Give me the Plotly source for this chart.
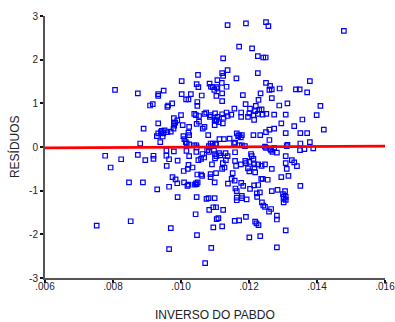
import plotly.graph_objects as go

# Scatter data (INVERSO DO PABDO, RESÍDUOS)
inv_pabdo = [
    .00806, .00777, .00824, .00793, .00847, .00852, .00752, .00873, .00888, .00895,
    .00919, .00919, .00930, .00957, .00965, .00979, .00958, .00990, .00975, .00984,
    .00989, .00965, .01009, .01008, .01020, .01022, .01024, .01016, .01034, .01019,
    .01022, .01044, .01046, .01048, .00990, .01046, .01043, .00970, .01047, .00965,
    .00957, .01045, .01051, .01041, .01049,
    # upper, x .0087-.0105
    .00873, .00933, .00933, .00949, .01002, .01002, .01015, .01022, .01029, .01050,
    .01046, .01051, .01048, .01048, .00909, .00917, .00960, .00962, .00974, .01000,
    .01039, .01044, .01053, .00979, .00989, .00979, .00983, .00933, .01024, .01046,
    .00890, .00978, .00980, .00970, .01005, .00943, .00941, .00952, .00960, .00933,
    .00929, .00948, .00946, .00939, .01007, .01022, .01024, .01010, .01014, .01017,
    .01024, .00880, .01039, .01045, .01053,
    # upper, x .0106-.0124
    .01137, .01191, .01171, .01209, .01226, .01242, .01124, .01137, .01121, .01124,
    .01163, .01226, .01107, .01120, .01134, .01084, .01088, .01093, .01105, .01107,
    .01098, .01121, .01104, .01182, .01234, .01061, .01121, .01157, .01190, .01203,
    .01220, .01230, .01228, .01069, .01074, .01087, .01085, .01100, .01107, .01099,
    .01103, .01105, .01111, .01099, .01121, .01125, .01123, .01134, .01137, .01148,
    .01177, .01177, .01197, .01201, .01213, .01218, .01215, .01226, .01237, .01240,
    .01064, .01069, .01080, .01113, .01126, .01143, .01164, .01171, .01179, .01156,
    .01213, .01233, .01093, .01103, .01082, .01093, .01171, .01179, .01168, .01176,
    # upper, x > .0124
    .01250, .01257, .01479, .01249, .01250, .01262, .01260, .01267, .01290, .01379,
    .01338, .01349, .01371, .01267, .01289, .01313, .01410, .01251, .01274, .01308,
    .01399, .01357, .01295, .01333, .01420, .01260, .01274, .01250, .01308, .01351,
    .01371, .01260, .01313, .01351, .01379,
    # lower, x .0105-.0124
    .01063, .01077, .01082, .01097, .01100, .01104, .01112, .01116, .01131, .01137,
    .01159, .01188, .01206, .01208, .01247, .01265, .01269, .01282, .01046, .01087,
    .01102, .01159, .01059, .01068, .01091, .01100, .01132, .01123, .01121, .01128,
    .01159, .01162, .01176, .01189, .01191, .01201, .01213, .01215, .01216, .01227,
    .01237, .01201, .01197, .01218, .01059, .01062, .01087, .01087, .01103, .01099,
    .01152, .01149, .01158, .01138, .01177, .01183, .01160, .01164, .01203, .01215,
    .01227, .01236, .01240, .01164, .01164, .01179, .01179, .01193, .01223, .01224,
    .01232, .01238, .01242, .01075, .01081, .01099, .01083, .01095, .01103, .01124,
    .01105, .01110, .01095, .01121, .01158, .01171, .01191, .01218, .01222, .01228,
    .01201, .01233, .01089, .01071,
    # lower, x > .0124
    .01250, .01263, .01274, .01311, .01350, .01363, .01389, .01308, .01326, .01333,
    .01341, .01308, .01311, .01267, .01247, .01316, .01295, .01255, .01351, .01267,
    .01284, .01306, .01300, .01302, .01308, .01302, .01308, .01302, .01247, .01265,
    .01259, .01282, .01282, .01308, .01282,
]

residuos = [
    1.31, -0.20, -0.28, -0.47, -0.81, -1.70, -1.80, -0.18, -0.81, -0.30,
    -0.20, -0.27, -0.97, -0.20, -0.28, -0.10, -0.43, -0.31, -0.69, -0.74,
    -0.83, -0.91, -0.81, -0.55, -0.50, -0.41, -0.21, -0.09, -0.47, -0.89,
    -0.86, -0.83, -0.85, -0.63, -1.15, -1.15, -1.54, -1.86, -2.02, -2.34,
    -0.08, -0.11, -0.30, -0.86, -0.81,
    1.23, 1.21, 1.17, 1.29, 1.51, 1.21, 1.09, 1.09, 1.21, 1.65,
    1.44, 1.37, 1.03, 0.94, 0.95, 0.98, 0.92, 0.95, 1.00, 0.73,
    0.76, 0.73, 0.71, 0.66, 0.61, 0.54, 0.56, 0.54, 0.46, 0.53,
    0.42, 0.42, 0.49, 0.35, 0.50, 0.37, 0.34, 0.38, 0.34, 0.31,
    0.25, 0.31, 0.24, 0.11, 0.25, 0.33, 0.27, 0.18, 0.11, 0.08,
    0.06, 0.08, 0.04, 0.04, 0.58,
    2.79, 2.83, 2.30, 2.26, 2.08, 2.05, 2.03, 1.76, 1.69, 1.63,
    1.57, 1.69, 1.53, 1.47, 1.38, 1.45, 1.38, 1.37, 1.37, 1.34,
    1.31, 1.23, 1.17, 1.19, 1.23, 1.18, 1.05, 0.88, 0.98, 0.88,
    0.94, 0.85, 1.08, 0.76, 0.79, 0.73, 0.69, 0.77, 0.69, 0.61,
    0.60, 0.63, 0.57, 0.50, 0.75, 0.67, 0.54, 0.79, 0.71, 0.74,
    0.79, 0.69, 0.69, 0.77, 0.73, 0.82, 0.62, 0.76, 0.86, 0.74,
    0.42, 0.46, 0.27, 0.18, 0.18, 0.19, 0.31, 0.27, 0.27, 0.08,
    0.27, 0.27, 0.08, 0.06, 0.02, 0.02, 0.04, 0.04, 0.25, 0.22,
    2.86, 2.77, 2.66, 2.05, 1.47, 1.40, 1.31, 1.32, 1.34, 1.51,
    1.32, 1.32, 1.25, 1.12, 0.95, 1.00, 0.94, 0.76, 0.74, 0.74,
    0.73, 0.63, 0.54, 0.48, 0.40, 0.40, 0.42, 0.34, 0.32, 0.32,
    0.32, 0.16, 0.05, 0.08, 0.11,
    -0.16, -0.07, -0.11, -0.08, -0.16, -0.21, -0.14, -0.19, -0.14, -0.21,
    -0.12, 0.02, -0.16, -0.21, 0.01, -0.08, -0.11, -0.13, -0.01, 0.08,
    0.08, 0.10, -0.27, -0.24, -0.40, -0.26, -0.30, -0.37, -0.50, -0.47,
    -0.32, -0.43, -0.40, -0.32, -0.37, -0.34, -0.27, -0.40, -0.47, -0.40,
    -0.43, -0.56, -0.49, -0.58, -0.63, -0.66, -0.62, -0.69, -0.60, -0.81,
    -0.60, -0.73, -0.77, -0.84, -0.82, -0.89, -0.95, -1.01, -0.96, -0.88,
    -0.87, -0.73, -0.73, -1.16, -1.22, -1.12, -1.17, -1.20, -1.06, -1.14,
    -1.04, -1.27, -1.34, -1.19, -1.17, -1.17, -1.44, -1.38, -1.38, -1.44,
    -1.65, -1.63, -1.84, -1.82, -1.69, -1.68, -1.60, -1.71, -1.75, -1.79,
    -2.07, -2.04, -2.31, -2.66,
    -0.02, -0.05, -0.02, 0.02, -0.07, -0.05, -0.03, -0.21, -0.30, -0.35,
    -0.44, -0.37, -0.50, -0.50, -0.40, -0.66, -0.69, -0.75, -0.89, -1.01,
    -0.98, -1.01, -1.08, -1.14, -1.14, -1.19, -1.21, -1.27, -1.37, -1.42,
    -1.48, -1.57, -1.66, -1.91, -2.30,
]

# Fitted line (endpoints)
fit_x = [0.006, 0.016]
fit_y = [-0.02, 0.02]

x_ticks = [0.006, 0.008, 0.010, 0.012, 0.014, 0.016]
x_tick_labels = [".006", ".008", ".010", ".012", ".014", ".016"]
y_ticks = [-3, -2, -1, 0, 1, 2, 3]
y_tick_labels = ["-3", "-2", "-1", "0", "1", "2", "3"]

x_title = "INVERSO DO PABDO"
y_title = "RESÍDUOS"

fig = go.Figure()
fig.add_trace(go.Scatter(
    x=inv_pabdo, y=residuos, mode="markers",
    marker=dict(symbol="square-open", size=4.5, color="#0000FF",
                line=dict(width=1.2, color="#0000FF")),
    showlegend=False, hoverinfo="skip", cliponaxis=False,
))
fig.add_trace(go.Scatter(
    x=fit_x, y=fit_y, mode="lines",
    line=dict(color="#FF0000", width=2.6),
    showlegend=False, hoverinfo="skip",
))

axis_font = dict(family="Arial, Liberation Sans, sans-serif", size=10, color="#222222")
title_font = dict(family="Arial, Liberation Sans, sans-serif", size=12, color="#222222")

fig.update_layout(
    width=395, height=322,
    margin=dict(l=45, r=10, t=16, b=44),
    paper_bgcolor="white", plot_bgcolor="white",
    xaxis=dict(
        range=[0.0059999, 0.0160001], tickvals=x_ticks, ticktext=x_tick_labels,
        showgrid=False, zeroline=False, showline=True, linecolor="#555555", linewidth=2,
        ticks="outside", ticklen=3, tickwidth=2, tickcolor="#111111",
        tickfont=axis_font, automargin=False, ticklabeloverflow="allow",
        ticklabelstandoff=-5,
    ),
    yaxis=dict(
        range=[-3.0001, 3.0001], tickvals=y_ticks, ticktext=y_tick_labels,
        showgrid=False, zeroline=False, showline=True, linecolor="#555555", linewidth=2,
        ticks="outside", ticklen=3, tickwidth=2, tickcolor="#111111",
        tickfont=axis_font, automargin=False,
    ),
    annotations=[
        dict(text=x_title, xref="paper", yref="paper", x=0.5, y=-0.143,
             xanchor="center", yanchor="middle", showarrow=False, font=title_font,
             borderpad=0),
        dict(text=y_title, xref="paper", yref="paper", x=-0.091, y=0.5,
             xanchor="center", yanchor="middle", textangle=-90, showarrow=False,
             font=title_font, borderpad=0),
    ],
)

fig.write_html("out.html")
